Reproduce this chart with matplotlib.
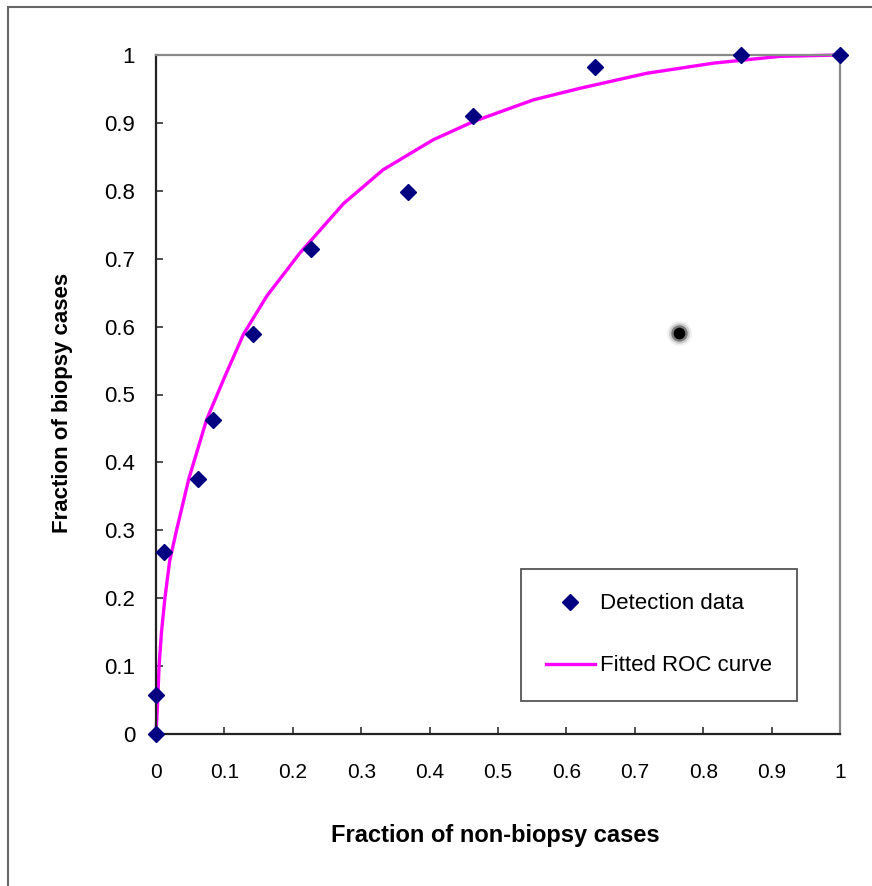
import matplotlib
matplotlib.use("Agg")
import matplotlib.pyplot as plt
from matplotlib.patches import Rectangle

plt.rcParams['font.family'] = ['Liberation Sans', 'DejaVu Sans']

# detection data (fraction of non-biopsy vs biopsy cases)
det_fpr = [0.0, 0.0, 0.011, 0.061, 0.083, 0.142, 0.226, 0.369, 0.464, 0.642, 0.855, 1.0]
det_tpr = [0.0, 0.057, 0.268, 0.376, 0.463, 0.589, 0.714, 0.798, 0.910, 0.982, 1.0, 1.0]

# fitted ROC curve
roc_fpr = [0.0, 0.0025, 0.0045, 0.008, 0.013, 0.02, 0.03, 0.048, 0.074, 0.1, 0.128,
           0.162, 0.21, 0.274, 0.332, 0.405, 0.464, 0.552, 0.62, 0.717, 0.815, 0.912, 1.0]
roc_tpr = [0.0, 0.05, 0.10, 0.15, 0.20, 0.255, 0.30, 0.376, 0.463, 0.525, 0.589,
           0.645, 0.708, 0.781, 0.831, 0.875, 0.902, 0.934, 0.951, 0.973, 0.988, 0.998, 1.0]

# the stray dark spot in the plot area
spot = (0.765, 0.591)

ticks = [0, 0.1, 0.2, 0.3, 0.4, 0.5, 0.6, 0.7, 0.8, 0.9, 1]
tick_labels = ['0', '0.1', '0.2', '0.3', '0.4', '0.5', '0.6', '0.7', '0.8', '0.9', '1']

fig = plt.figure(figsize=(8.72, 8.86), dpi=100)
# outer frame (runs off the right and bottom edges)
fig.patches.append(Rectangle((8 / 872, -0.05), 1.0, 1 - 7 / 886 + 0.05,
                             transform=fig.transFigure, fill=False,
                             edgecolor='#666666', linewidth=1.5))

ax = fig.add_axes([156 / 872, 1 - 734 / 886, 684 / 872, 679 / 886])

ax.plot(roc_fpr, roc_tpr, color='#ff00ff', lw=2.4, label='Fitted ROC curve',
        zorder=2, clip_on=False)
ax.plot(det_fpr, det_tpr, 'D', color='#000080', ms=8.5, label='Detection data',
        zorder=3, clip_on=False)

# blurred spot
for s, a in [(320, 0.06), (220, 0.15), (140, 0.4), (70, 1.0)]:
    ax.scatter([spot[0]], [spot[1]], s=s, color='black', alpha=a, lw=0, zorder=1)

ax.set_xlim(0, 1)
ax.set_ylim(0, 1)
ax.set_xticks(ticks)
ax.set_xticklabels(tick_labels)
ax.set_yticks(ticks)
ax.set_yticklabels(tick_labels)
ax.tick_params(direction='in', length=5, width=1.2, color='#333333')
ax.tick_params(axis='x', pad=21, labelsize=15)
ax.tick_params(axis='y', pad=15, labelsize=16)

for side in ['left', 'bottom']:
    ax.spines[side].set_color('#222222')
    ax.spines[side].set_linewidth(1.6)
for side in ['top', 'right']:
    ax.spines[side].set_color('#888888')
    ax.spines[side].set_linewidth(1.6)

ax.set_xlabel('Fraction of non-biopsy cases', fontsize=17, fontweight='bold')
ax.set_ylabel('Fraction of biopsy cases', fontsize=16, fontweight='bold')
ax.xaxis.label.set_va('center')
ax.yaxis.label.set_va('center')
ax.xaxis.set_label_coords(0.4956, -0.149)
ax.yaxis.set_label_coords(-0.1374, 0.487)

handles, labels = ax.get_legend_handles_labels()
leg = ax.legend(handles[::-1], labels[::-1], loc='upper left',
                bbox_to_anchor=(0.534, 0.243), borderaxespad=0, fontsize=16,
                fancybox=False, framealpha=1, edgecolor='#555555',
                borderpad=1.1, labelspacing=1.84, handlelength=2.2,
                handletextpad=0.25)
leg.get_frame().set_linewidth(1.3)

fig.savefig('out.png', dpi=100)
